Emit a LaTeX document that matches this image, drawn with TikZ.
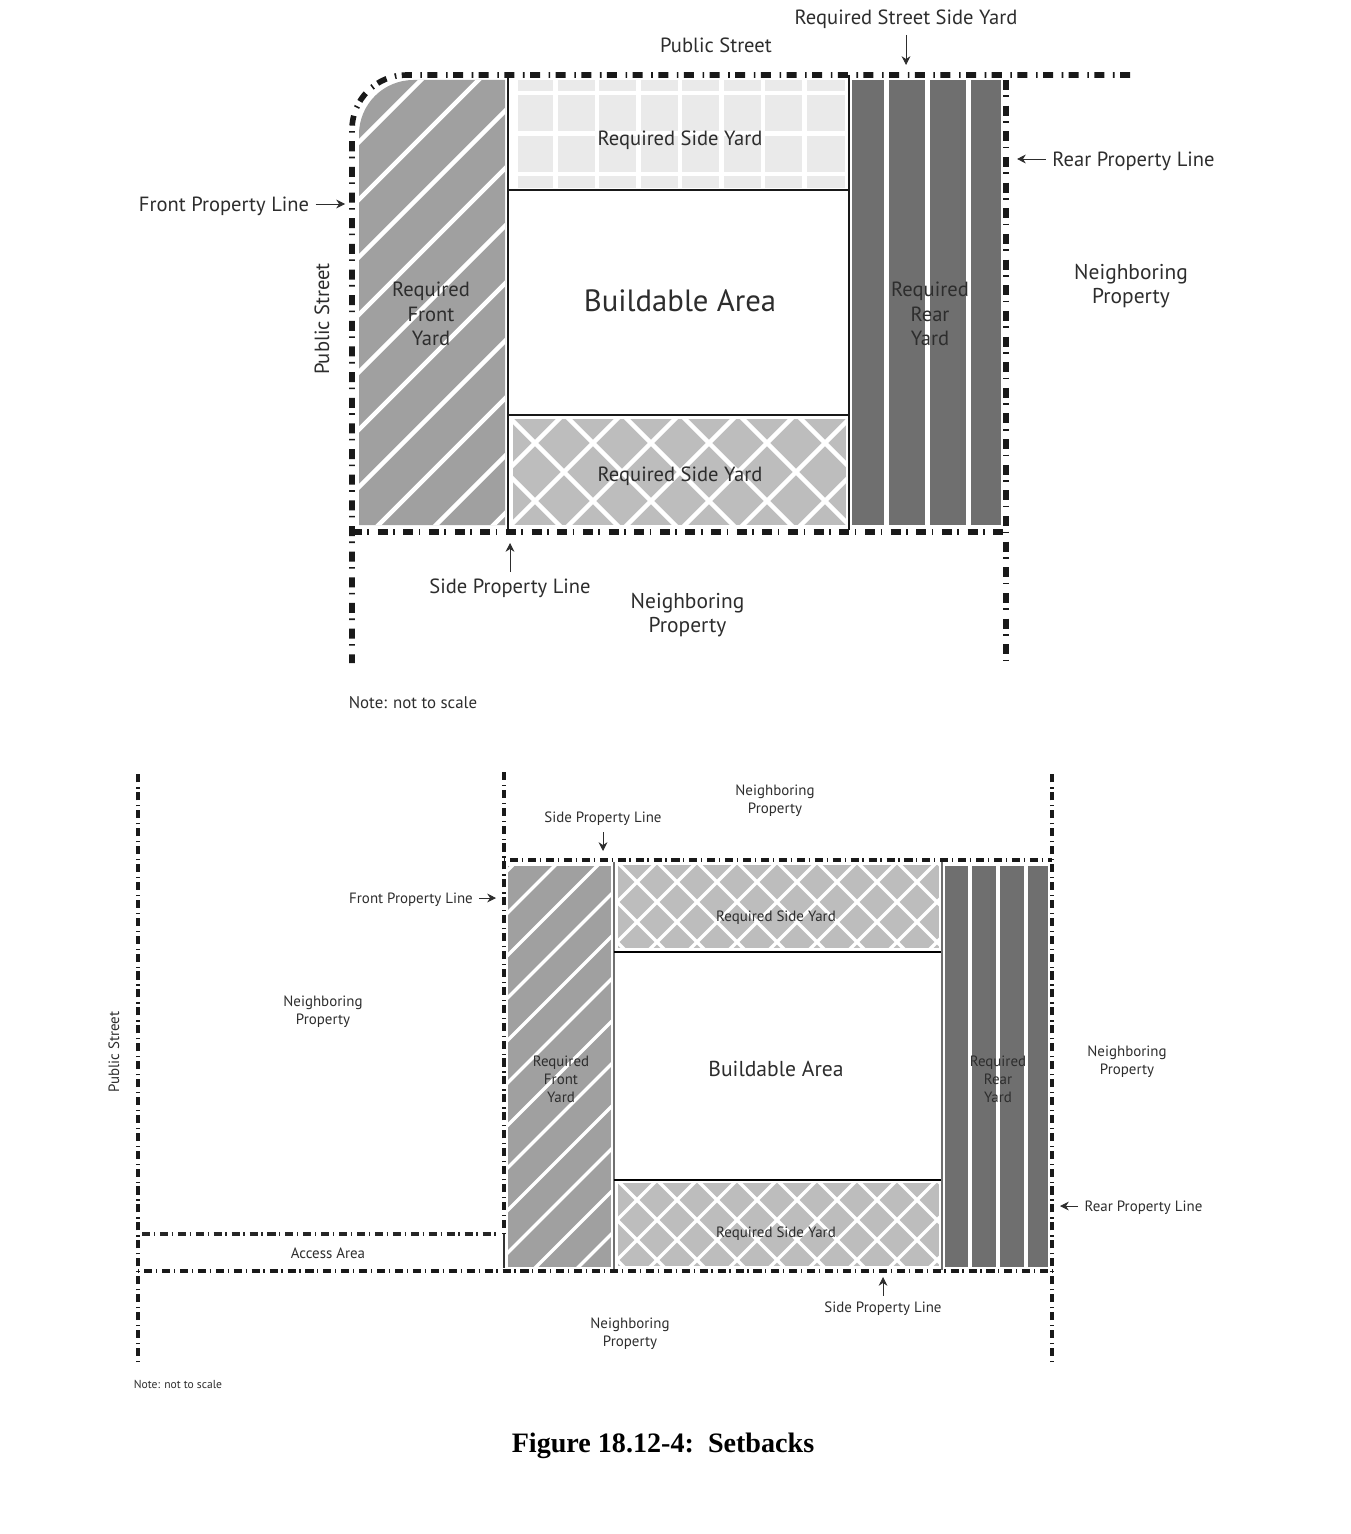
\documentclass[tikz,border=0pt]{standalone}
\usepackage{fontspec}
\setmainfont{Liberation Serif}
\setsansfont{PT Sans}
\usetikzlibrary{positioning, arrows.meta}
\definecolor{InkGray}{RGB}{45, 45, 45}
\definecolor{FrontGray}{RGB}{160, 160, 160}
\definecolor{RearGray}{RGB}{111, 111, 111}
\definecolor{SideGray}{RGB}{189, 189, 189}
\definecolor{PaleGray}{RGB}{234, 234, 234}
\tikzset{
  lbl/.style={font=\sffamily\fontsize{11.7}{14}\selectfont, text=InkGray, align=center, inner sep=2pt},
  lblsmall/.style={font=\sffamily\fontsize{8.5}{10.2}\selectfont, text=InkGray, align=center, inner sep=2pt},
  propline/.style={line width=3.2pt, color=black!90, dash pattern=on 5.7pt off 3.1pt on 0.9pt off 4.9pt},
  proplinesmall/.style={line width=2.3pt, color=black!90, dash pattern=on 4.6pt off 2.1pt on 0.7pt off 2.8pt, dash phase=6.7pt},
  accessline/.style={line width=1.8pt, color=black!85, dash pattern=on 4.6pt off 2.1pt on 0.7pt off 2.8pt},
  wall/.style={line width=1.5pt, color=black!90},
  wallsmall/.style={line width=1pt, color=black},
  stripe/.style={white, line width=2.6pt},
  stripesmall/.style={white, line width=1.9pt},
  pointer/.style={-{Stealth[length=5pt,width=5pt]}, line width=0.5pt, color=InkGray, shorten <=1.5pt},
}
\begin{document}
\begin{tikzpicture}[x=0.02cm, y=-0.02cm]
\useasboundingbox (0,0) rectangle (1351,1534);
% upper plan, yards
\fill[FrontGray] (359,525) [rounded corners=31pt] -- (359,80) [sharp corners] -- (505,80) -- (505,525) -- cycle;
\begin{scope}
\clip (359,525) [rounded corners=31pt] -- (359,80) [sharp corners] -- (505,80) -- (505,525) -- cycle;
\foreach \s in {501,558.5,...,1040} \draw[stripe] (300,{\s-300}) -- (600,{\s-600});
\end{scope}
\fill[PaleGray] (518,80) rectangle (845,188);
\foreach \x in {555.5,597,...,810} \draw[white, line width=2.8pt] (\x,80) -- (\x,188);
\foreach \y in {93,133.5,174} \draw[white, line width=2.8pt] (518,\y) -- (845,\y);
\fill[SideGray] (513,419) rectangle (846,525);
\begin{scope}
\clip (513,419) rectangle (846,525);
\foreach \s in {920,978,...,1400} \draw[stripe] (400,{\s-400}) -- (900,{\s-900});
\foreach \s in {-82,-24,...,450} \draw[stripe] (400,{400-\s}) -- (900,{900-\s});
\end{scope}
\fill[RearGray] (852,80) rectangle (1001,525);
\foreach \x in {886.5,927.5,968.5} \draw[white, line width=2.8pt] (\x,80) -- (\x,525);
% upper plan, lines
\draw[wall] (508,75) -- (508,530);
\draw[wall] (849,75) -- (849,530);
\draw[wall] (508,190) -- (849,190);
\draw[wall] (508,415) -- (849,415);
\draw[propline] (1130,75) [rounded corners=31pt] -- (352,75) [sharp corners] -- (352,663);
\draw[propline] (1006,80) -- (1006,663);
\draw[propline] (352,532) -- (1006,532);
% upper plan, labels
\node[lbl] (streetside) at (906,19) {Required Street Side Yard};
\node[lbl] (street) at (716,45) {Public Street};
\node[lbl] (rearline) at (1133.5,161) {Rear Property Line};
\node[lbl] (frontline) at (224,206) {Front Property Line};
\node[lbl, rotate=90] (streetleft) at (322,319) {Public Street};
\node[lbl] (frontyard) at (431,314) {Required\\Front\\Yard};
\node[lbl] (rearyard) at (930,314) {Required\\Rear\\Yard};
\node[lbl] (sidetop) at (680,140) {Required Side Yard};
\node[lbl] (sidebottom) at (680,476) {Required Side Yard};
\node[lbl, font=\sffamily\fontsize{17.5}{21}\selectfont] (build) at (680,301) {Buildable Area};
\node[lbl, font=\sffamily\fontsize{12.2}{14}\selectfont] (neighright) at (1131,286) {Neighboring\\Property};
\node[lbl, font=\sffamily\fontsize{12.2}{14}\selectfont] (neighbottom) at (687.5,615) {Neighboring\\Property};
\node[lbl] (sideline) at (510,588) {Side Property Line};
\node[lbl, font=\sffamily\fontsize{9.6}{12}\selectfont] (note) at (413,703) {Note: not to scale};
\coordinate (streetsidetip) at (906,65);
\coordinate (reartip) at (1017,159);
\coordinate (fronttip) at (345,204);
\coordinate (sidetip) at (510,543);
\draw[pointer] (streetside) -- (streetsidetip);
\draw[pointer] (rearline.west |- reartip) -- (reartip);
\draw[pointer] (frontline.east |- fronttip) -- (fronttip);
\draw[pointer] (sideline) -- (sidetip);
% lower plan, yards
\fill[FrontGray] (508,866) rectangle (611,1267);
\begin{scope}
\clip (508,866) rectangle (611,1267);
\foreach \s in {1378,1420.5,...,1885} \draw[stripesmall] (450,{\s-450}) -- (650,{\s-650});
\end{scope}
\fill[SideGray] (618,865) rectangle (939,948);
\begin{scope}
\clip (618,865) rectangle (939,948);
\foreach \s in {1439,1479,...,1960} \draw[stripesmall] (550,{\s-550}) -- (1000,{\s-1000});
\foreach \s in {-365,-325,...,150} \draw[stripesmall] (550,{550-\s}) -- (1000,{1000-\s});
\end{scope}
\fill[SideGray] (618,1183) rectangle (939,1266);
\begin{scope}
\clip (618,1183) rectangle (939,1266);
\foreach \s in {1757,1797,...,2280} \draw[stripesmall] (550,{\s-550}) -- (1000,{\s-1000});
\foreach \s in {-683,-643,...,-170} \draw[stripesmall] (550,{550-\s}) -- (1000,{1000-\s});
\end{scope}
\fill[RearGray] (945,866) rectangle (1048,1267);
\foreach \x in {970,998,1026} \draw[white, line width=2.2pt] (\x,866) -- (\x,1267);
% lower plan, lines
\draw[FrontGray!70!black, line width=0.9pt] (614,862) -- (614,1270);
\draw[RearGray, line width=1.6pt] (942,862) -- (942,1270);
\draw[wallsmall] (614,952) -- (941,952);
\draw[wallsmall] (614,1180) -- (941,1180);
\draw[proplinesmall] (138,1362) -- (138,772);
\draw[proplinesmall] (504,1234) -- (504,770);
\draw[proplinesmall] (1052,1362) -- (1052,772);
\draw[proplinesmall] (504,860) -- (1052,860);
\draw[proplinesmall] (138,1271) -- (1052,1271);
\draw[accessline] (142,1234) -- (500,1234);
\draw[black!80, line width=0.8pt] (504,1234) -- (504,1268);
% lower plan, labels
\node[lblsmall] (neightop) at (775,801) {Neighboring\\Property};
\node[lblsmall] (sidelinetop) at (603,819) {Side Property Line};
\node[lblsmall] (frontlinelow) at (411,900) {Front Property Line};
\node[lblsmall] (neighleft) at (323,1012) {Neighboring\\Property};
\node[lblsmall, rotate=90] (streetlow) at (114,1052) {Public Street};
\node[lblsmall] (frontyardlow) at (561,1079) {Required\\Front\\Yard};
\node[lblsmall] (rearyardlow) at (998,1079) {Required\\Rear\\Yard};
\node[lblsmall] (sidetoplow) at (776,918) {Required Side Yard};
\node[lblsmall] (sidebottomlow) at (776,1234) {Required Side Yard};
\node[lblsmall, font=\sffamily\fontsize{12.3}{14}\selectfont] (buildlow) at (776,1069) {Buildable Area};
\node[lblsmall] (neighrightlow) at (1127,1062) {Neighboring\\Property};
\node[lblsmall] (rearlinelow) at (1143.5,1208) {Rear Property Line};
\node[lblsmall] (access) at (328,1253) {Access Area};
\node[lblsmall] (neighbottomlow) at (630,1334) {Neighboring\\Property};
\node[lblsmall] (sidelinelow) at (883,1309) {Side Property Line};
\node[lblsmall, font=\sffamily\fontsize{6.6}{8}\selectfont] (notelow) at (178,1384) {Note: not to scale};
\coordinate (sidetiptop) at (603,851);
\coordinate (fronttiplow) at (496,898);
\coordinate (reartiplow) at (1060,1206);
\coordinate (sidetiplow) at (883,1277);
\draw[pointer] (sidelinetop) -- (sidetiptop);
\draw[pointer] (frontlinelow.east |- fronttiplow) -- (fronttiplow);
\draw[pointer] (rearlinelow.west |- reartiplow) -- (reartiplow);
\draw[pointer] (sidelinelow) -- (sidetiplow);
% caption
\node[font=\rmfamily\bfseries\fontsize{16}{19}\selectfont, text=black] (caption) at (663,1446) {Figure 18.12-4:~~Setbacks};
\end{tikzpicture}
\end{document}
